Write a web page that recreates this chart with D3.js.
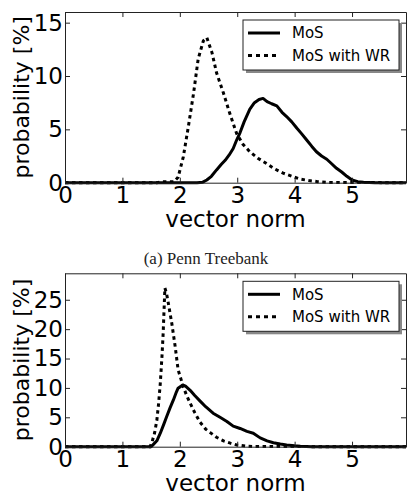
<!DOCTYPE html>
<html lang="en">
<head>
<meta charset="UTF-8">
<title>vector norm</title>
<style>
  body { margin: 0; background: #fff; }
  text { font-family: "DejaVu Sans", sans-serif; fill: #000; }
</style>
</head>
<body>
<svg id="fig" width="411" height="501"></svg>
<script src="https://d3js.org/d3.v7.min.js"></script>
<script>
// top panel: MoS vs MoS with WR
const topMosX = [0, 2.3, 2.4, 2.47, 2.55, 2.64, 2.72, 2.79, 2.86, 2.93, 2.99, 3.05, 3.12, 3.22, 3.3, 3.38, 3.45, 3.52, 3.6, 3.69, 3.78, 3.86, 3.95, 4.04, 4.12, 4.21, 4.3, 4.38, 4.47, 4.56, 4.64, 4.73, 4.82, 4.91, 5.0, 5.1, 5.2, 5.4, 5.94];
const topMosY = [0, 0, 0.05, 0.25, 0.6, 1.2, 1.7, 2.1, 2.6, 3.2, 4.0, 4.7, 5.7, 6.9, 7.5, 7.8, 7.9, 7.6, 7.4, 7.2, 6.6, 6.2, 5.7, 5.1, 4.6, 4.0, 3.4, 2.9, 2.5, 2.2, 1.8, 1.35, 1.0, 0.6, 0.25, 0.1, 0.05, 0, 0];
const topWrX = [0, 1.6, 1.7, 1.9, 1.97, 2.06, 2.15, 2.24, 2.32, 2.41, 2.47, 2.56, 2.64, 2.76, 2.87, 2.99, 3.1, 3.22, 3.36, 3.51, 3.65, 3.8, 3.95, 4.09, 4.25, 4.4, 4.6, 5.94];
const topWrY = [0, 0, 0.1, 0.1, 0.5, 2.4, 5.3, 8.4, 11.6, 13.3, 13.6, 12.2, 10.3, 8.4, 6.5, 4.6, 3.6, 2.9, 2.3, 1.8, 1.3, 0.9, 0.6, 0.35, 0.2, 0.1, 0.02, 0];

// bottom panel
const botMosX = [0, 1.5, 1.54, 1.6, 1.66, 1.72, 1.77, 1.83, 1.89, 1.94, 1.97, 2.02, 2.05, 2.1, 2.18, 2.26, 2.35, 2.45, 2.58, 2.7, 2.82, 2.93, 3.05, 3.17, 3.28, 3.4, 3.52, 3.63, 3.75, 3.86, 4.0, 4.1, 4.3, 5.94];
const botMosY = [0, 0, 0.4, 1.0, 2.3, 3.8, 5.1, 6.6, 8.0, 9.3, 9.95, 10.3, 10.5, 10.3, 9.6, 8.7, 7.8, 6.8, 5.7, 5.0, 4.3, 3.5, 3.1, 2.6, 2.3, 1.5, 1.0, 0.68, 0.45, 0.28, 0.15, 0.08, 0, 0];
const botWrX = [0, 1.48, 1.51, 1.56, 1.6, 1.63, 1.66, 1.69, 1.71, 1.74, 1.77, 1.8, 1.86, 1.92, 1.97, 2.02, 2.06, 2.12, 2.18, 2.26, 2.35, 2.45, 2.53, 2.64, 2.76, 2.88, 2.99, 3.15, 3.3, 5.94];
const botWrY = [0, 0, 0.6, 2.3, 4.5, 7.3, 10.8, 15.5, 19.3, 27.0, 26.0, 24.4, 21.0, 17.0, 13.1, 11.5, 10.2, 8.7, 7.4, 5.8, 4.2, 3.0, 2.4, 1.6, 1.0, 0.6, 0.3, 0.1, 0.02, 0];

const xTicks = [0, 1, 2, 3, 4, 5];
const topYTicks = [0, 5, 10, 15];
const botYTicks = [0, 5, 10, 15, 20, 25];
const seriesNames = ["MoS", "MoS with WR"];

const svg = d3.select("#fig");
const left = 65, right = 406;
const fmt = d3.format("d");

function zip(xs, ys) { return xs.map((v, i) => [v, ys[i]]); }

function panel(top, bottom, ymax, yTicks, mos, wr) {
  const x = d3.scaleLinear().domain([0, 5.94]).range([left, right]);
  const y = d3.scaleLinear().domain([0, ymax]).range([bottom, top]);
  const g = svg.append("g");

  // lines first so the frame sits on top
  const line = d3.line().x(d => x(d[0])).y(d => y(d[1]));
  g.append("path").datum(mos).attr("d", line)
    .attr("fill", "none").attr("stroke", "#000").attr("stroke-width", 3)
    .attr("stroke-linejoin", "round");
  g.append("path").datum(wr).attr("d", line)
    .attr("fill", "none").attr("stroke", "#000").attr("stroke-width", 3)
    .attr("stroke-dasharray", "3.5,3.5");

  // axes with inward ticks on all four sides
  const ax = (sel) => sel.selectAll(".domain").attr("stroke", "#222");
  g.append("g").attr("transform", `translate(0,${bottom})`)
    .call(d3.axisBottom(x).tickValues(xTicks).tickFormat(fmt).tickSize(-5).tickSizeOuter(0).tickPadding(4))
    .call(ax)
    .call(s => s.selectAll("text").style("font-size", "23px"));
  g.append("g").attr("transform", `translate(0,${top})`)
    .call(d3.axisTop(x).tickValues(xTicks).tickSize(-5).tickSizeOuter(0).tickFormat(""))
    .call(ax);
  g.append("g").attr("transform", `translate(${left},0)`)
    .call(d3.axisLeft(y).tickValues(yTicks).tickFormat(fmt).tickSize(-5).tickSizeOuter(0).tickPadding(2))
    .call(ax)
    .call(s => s.selectAll("text").style("font-size", "23px"));
  g.append("g").attr("transform", `translate(${right},0)`)
    .call(d3.axisRight(y).tickValues(yTicks).tickSize(-5).tickSizeOuter(0).tickFormat(""))
    .call(ax);
  g.selectAll(".tick line").attr("stroke", "#222");

  g.append("text").attr("x", (left + right) / 2).attr("y", bottom + 44)
    .attr("text-anchor", "middle").style("font-size", "23px").text("vector norm");
  g.append("text")
    .attr("transform", `translate(29,${(top + bottom) / 2}) rotate(-90)`)
    .attr("text-anchor", "middle").style("font-size", "22px").text("probability [%]");

  // legend
  const lx = 243, ly = top + 8, lw = 156, lh = 50;
  g.append("rect").attr("x", lx + 3).attr("y", ly + 3).attr("width", lw).attr("height", lh)
    .attr("fill", "#888");
  g.append("rect").attr("x", lx).attr("y", ly).attr("width", lw).attr("height", lh)
    .attr("fill", "#fff").attr("stroke", "#222").attr("stroke-width", 1);
  seriesNames.forEach((name, i) => {
    const yy = ly + 13 + i * 22.5;
    g.append("line").attr("x1", lx + 5).attr("x2", lx + 37).attr("y1", yy).attr("y2", yy)
      .attr("stroke", "#000").attr("stroke-width", 3)
      .attr("stroke-dasharray", i ? "4,4" : null);
    g.append("text").attr("x", lx + 49).attr("y", yy).attr("dy", "0.36em")
      .style("font-size", "15px").text(name);
  });
}

panel(12, 182.7, 16, topYTicks, zip(topMosX, topMosY), zip(topWrX, topWrY));
panel(273.3, 446.7, 29.5, botYTicks, zip(botMosX, botMosY), zip(botWrX, botWrY));

svg.append("text").attr("x", 206).attr("y", 264)
  .attr("text-anchor", "middle")
  .style("font-family", "'Liberation Serif', serif").style("font-size", "17px")
  .style("fill", "#222").text("(a) Penn Treebank");
</script>
</body>
</html>
